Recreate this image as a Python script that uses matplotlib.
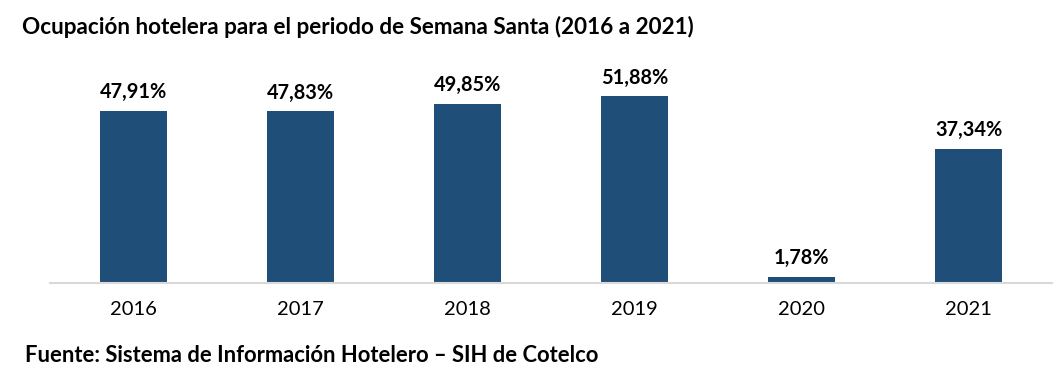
import matplotlib
matplotlib.use("Agg")
import matplotlib.pyplot as plt

years = ["2016", "2017", "2018", "2019", "2020", "2021"]
occupancy = [47.91, 47.83, 49.85, 51.88, 1.78, 37.34]
labels = ["47,91%", "47,83%", "49,85%", "51,88%", "1,78%", "37,34%"]

title = "Ocupación hotelera para el periodo de Semana Santa (2016 a 2021)"
source = "Fuente: Sistema de Información Hotelero – SIH de Cotelco"

plt.rcParams["font.family"] = ["Lato", "DejaVu Sans"]
bar_color = "#1F4E79"

fig = plt.figure(figsize=(10.64, 3.74), dpi=100)
ax = fig.add_axes([50 / 1064, 91 / 374, 1002 / 1064, 216 / 374])

x = range(len(years))
bars = ax.bar(x, occupancy, width=0.4, color=bar_color, zorder=2)
ax.set_xlim(-0.5, len(years) - 0.5)
ax.set_ylim(0, 60)

for rect, lab in zip(bars, labels):
    ax.annotate(lab, (rect.get_x() + rect.get_width() / 2, rect.get_height()),
                xytext=(0, 6), textcoords="offset points",
                ha="center", va="bottom", fontsize=14.3, fontweight="bold", color="black")

ax.set_xticks(list(x))
ax.set_xticklabels(years, fontsize=14.5)
ax.tick_params(axis="x", length=0, pad=13)
ax.set_yticks([])
for side in ["top", "left", "right"]:
    ax.spines[side].set_visible(False)
ax.spines["bottom"].set_color("#D9D9D9")
ax.spines["bottom"].set_linewidth(1.5)

fig.text(22 / 1064, 1 - 27 / 374, title, fontsize=16.2, fontweight="bold", va="center", ha="left")
fig.text(25 / 1064, 1 - 355 / 374, source, fontsize=15.8, fontweight="bold", va="center", ha="left")

fig.savefig("out.png", dpi=100, facecolor="white")
